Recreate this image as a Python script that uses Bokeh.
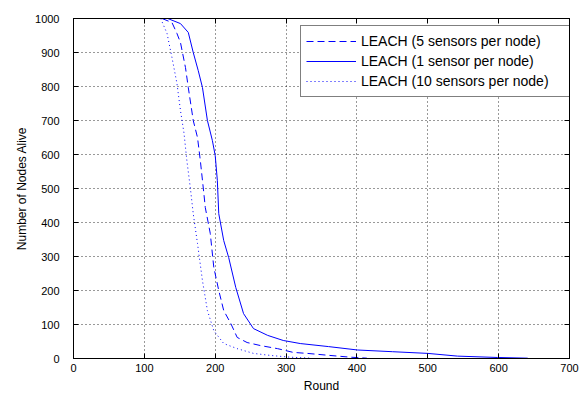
from bokeh.plotting import figure
from bokeh.models import LinearAxis, FixedTicker, Range1d, Legend, LegendItem
from bokeh.embed import file_html
from bokeh.resources import INLINE

# Data
round_1 = [133, 151, 162, 169, 176, 182, 189, 196, 200, 203, 205, 212, 219, 229, 240,
           254, 274, 296, 320, 360, 401, 450, 500, 542, 598, 641]
alive_1 = [1000, 985, 959, 900, 847, 797, 700, 641, 597, 524, 426, 347, 297, 209, 132,
           88, 68, 53, 44, 35, 25, 20, 15, 7, 3, 1]

round_5 = [125, 139, 146, 151, 158, 162, 169, 175, 179, 184, 186, 193, 198, 205, 212,
           222, 231, 245, 264, 288, 310, 330, 362, 390, 414]
alive_5 = [1000, 988, 956, 929, 856, 797, 700, 650, 582, 485, 444, 368, 268, 200, 141,
           103, 62, 47, 38, 29, 18, 15, 9, 4, 1]

round_10 = [123, 132, 139, 146, 151, 156, 160, 165, 169, 175, 182, 189, 198, 212, 231,
            254, 278, 305, 335]
alive_10 = [1000, 956, 885, 809, 729, 662, 582, 500, 426, 338, 229, 141, 82, 44, 29,
            15, 9, 4, 1]

x_ticks = [0, 100, 200, 300, 400, 500, 600, 700]
y_ticks = [0, 100, 200, 300, 400, 500, 600, 700, 800, 900, 1000]

labels = ["LEACH (5 sensors per node)", "LEACH (1 sensor per node)",
          "LEACH (10 sensors per node)"]

FONT = "Liberation Sans"
BLUE = "#0000FF"

p = figure(width=587, height=396, output_backend="svg", toolbar_location=None,
           x_range=Range1d(0, 700), y_range=Range1d(0, 1000),
           min_border_left=73, min_border_right=18, min_border_top=18,
           min_border_bottom=38)
p.background_fill_color = "white"
p.border_fill_color = "white"
p.outline_line_color = "black"
p.outline_line_width = 1

r5 = p.line(round_5, alive_5, line_color=BLUE, line_width=1, line_dash="7 4")
r1 = p.line(round_1, alive_1, line_color=BLUE, line_width=1)
r10 = p.line(round_10, alive_10, line_color=BLUE, line_width=1, line_dash="1 3")

xt = FixedTicker(ticks=x_ticks)
yt = FixedTicker(ticks=y_ticks)

for ax in [p.xaxis[0], p.yaxis[0]]:
    ax.major_tick_in = 5
    ax.major_tick_out = 0
    ax.minor_tick_line_color = None
    ax.axis_line_color = "black"
    ax.major_tick_line_color = "black"
    ax.major_label_text_font = FONT
    ax.major_label_text_font_size = "11px"
    ax.major_label_text_color = "black"
    ax.axis_label_text_font = FONT
    ax.axis_label_text_font_size = "12px"
    ax.axis_label_text_font_style = "normal"
    ax.axis_label_text_color = "black"

p.xaxis[0].ticker = xt
p.yaxis[0].ticker = yt
p.xaxis[0].axis_label = "Round"
p.yaxis[0].axis_label = "Number of Nodes Alive"
p.xaxis[0].major_label_standoff = 5
p.xaxis[0].axis_label_standoff = 4
p.yaxis[0].major_label_standoff = 14
p.yaxis[0].axis_label_standoff = 3

# top and right axes: ticks only (MATLAB box style)
top = LinearAxis(ticker=FixedTicker(ticks=x_ticks), major_tick_in=5, major_tick_out=0,
                 minor_tick_line_color=None,
                 major_label_overrides={t: "" for t in x_ticks},
                 major_label_standoff=0, axis_line_color="black")
right = LinearAxis(ticker=FixedTicker(ticks=y_ticks), major_tick_in=5, major_tick_out=0,
                   minor_tick_line_color=None,
                   major_label_overrides={t: "" for t in y_ticks},
                   major_label_standoff=0, axis_line_color="black")
p.add_layout(top, "above")
p.add_layout(right, "right")

p.xgrid.ticker = xt
p.ygrid.ticker = yt
for g in [p.xgrid[0], p.ygrid[0]]:
    g.grid_line_color = "black"
    g.grid_line_dash = "1 3"
    g.grid_line_alpha = 0.8
    g.grid_line_width = 1

legend = Legend(items=[LegendItem(label=labels[0], renderers=[r5]),
                       LegendItem(label=labels[1], renderers=[r1]),
                       LegendItem(label=labels[2], renderers=[r10])],
                location=(227, 261))
legend.border_line_color = "black"
legend.border_line_width = 1
legend.background_fill_color = "white"
legend.background_fill_alpha = 1
legend.margin = 0
legend.padding = 5
legend.spacing = 0
legend.glyph_width = 50
legend.glyph_height = 20
legend.label_height = 20
legend.label_width = 215
legend.label_standoff = 5
legend.label_text_font = FONT
legend.label_text_font_size = "14px"
legend.label_text_color = "black"
p.add_layout(legend, "center")

open("out.html", "w").write(file_html(p, INLINE))
